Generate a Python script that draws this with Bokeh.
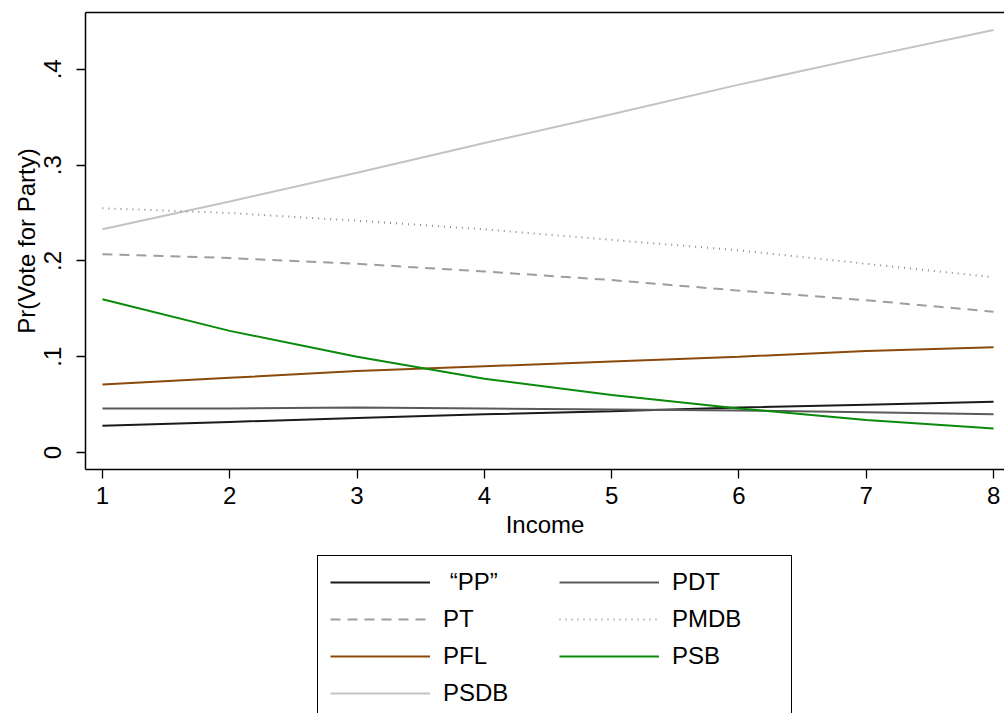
from bokeh.plotting import figure
from bokeh.layouts import column
from bokeh.models import Range1d, FixedTicker, LinearAxis, Legend, LegendItem
from bokeh.embed import file_html
from bokeh.resources import INLINE

income = [1, 2, 3, 4, 5, 6, 7, 8]
pp = [0.028, 0.032, 0.036, 0.040, 0.043, 0.047, 0.050, 0.053]
pdt = [0.046, 0.046, 0.047, 0.046, 0.045, 0.044, 0.042, 0.040]
pt = [0.207, 0.203, 0.197, 0.189, 0.180, 0.169, 0.159, 0.147]
pmdb = [0.255, 0.250, 0.242, 0.233, 0.222, 0.211, 0.197, 0.183]
pfl = [0.071, 0.078, 0.085, 0.090, 0.095, 0.100, 0.106, 0.110]
psb = [0.160, 0.127, 0.100, 0.077, 0.060, 0.046, 0.034, 0.025]
psdb = [0.233, 0.262, 0.292, 0.323, 0.353, 0.384, 0.413, 0.441]

y_ticks = [0, 0.1, 0.2, 0.3, 0.4]
y_tick_labels = ["0", ".1", ".2", ".3", ".4"]
x_ticks = [1, 2, 3, 4, 5, 6, 7, 8]

FONT = "Liberation Sans"

p = figure(width=1004, height=553, output_backend="svg",
           toolbar_location=None,
           x_range=Range1d(0.867, 8.086), y_range=Range1d(-0.0177, 0.4593),
           min_border_left=85, min_border_right=0, min_border_top=12,
           min_border_bottom=84, x_axis_label="Income",
           y_axis_label="Pr(Vote for Party)")
p.outline_line_color = None
p.grid.grid_line_color = None
p.background_fill_color = "white"
p.border_fill_color = "white"

for ax in (p.xaxis[0], p.yaxis[0]):
    ax.axis_line_color = "black"
    ax.axis_line_width = 1.5
    ax.major_tick_line_color = "black"
    ax.major_tick_line_width = 1.3
    ax.major_tick_out = 9
    ax.major_tick_in = 0
    ax.minor_tick_line_color = None
    ax.major_label_text_font = FONT
    ax.major_label_text_font_size = "24px"
    ax.major_label_text_color = "black"
    ax.axis_label_text_font = FONT
    ax.axis_label_text_font_size = "24px"
    ax.axis_label_text_font_style = "normal"
    ax.axis_label_text_color = "black"

p.xaxis.ticker = FixedTicker(ticks=x_ticks)
p.xaxis.major_label_standoff = 8
p.xaxis.axis_label_standoff = 4
p.yaxis.ticker = FixedTicker(ticks=y_ticks)
p.yaxis.major_label_overrides = {t: l for t, l in zip(y_ticks, y_tick_labels)}
p.yaxis.major_label_orientation = "parallel"
p.yaxis.major_label_standoff = 15
p.yaxis.axis_label_standoff = 2

top = LinearAxis(ticker=FixedTicker(ticks=[]), axis_line_color="black",
                 axis_line_width=1.5, major_tick_line_color=None,
                 minor_tick_line_color=None, major_label_text_font_size="0px")
p.add_layout(top, "above")

series = [
    (" “PP”", pp, "#1a1a1a", "solid"),
    ("PT", pt, "#9e9e9e", "10 7"),
    ("PFL", pfl, "#8b4a0c", "solid"),
    ("PSDB", psdb, "#c3c3c3", "solid"),
    ("PDT", pdt, "#5a5a5a", "solid"),
    ("PMDB", pmdb, "#8a8a8a", "1 5"),
    ("PSB", psb, "#0a8a0a", "solid"),
]

for name, ys, color, dash in series:
    p.line(income, ys, line_color=color, line_width=2, line_dash=dash)

# Legend panel: a second figure whose frame fills its canvas; its own copies of
# the series lie outside its x range, so only the legend is visible.
lg = figure(width=1004, height=160, output_backend="svg", toolbar_location=None,
            x_range=Range1d(100, 101), y_range=Range1d(0, 1),
            x_axis_type=None, y_axis_type=None,
            min_border_left=0, min_border_right=0, min_border_top=0,
            min_border_bottom=0)
lg.outline_line_color = None
lg.grid.grid_line_color = None
lg.background_fill_color = "white"
lg.border_fill_color = "white"

items = []
for name, ys, color, dash in series:
    r = lg.line(income, ys, line_color=color, line_width=2, line_dash=dash)
    items.append(LegendItem(label=name, renderers=[r]))

legend = Legend(items=items, location=(232, -7), orientation="vertical",
                nrows=4, ncols=2,
                glyph_width=100, glyph_height=28, label_height=28,
                label_width=107, label_standoff=13, spacing=9, padding=12,
                margin=0, border_line_color="black", border_line_alpha=1,
                border_line_width=1.3,
                background_fill_color="white", background_fill_alpha=1,
                label_text_font=FONT, label_text_font_size="24px",
                label_text_color="black")
lg.add_layout(legend, "center")

page = column(p, lg, spacing=0)
open("out.html", "w").write(file_html(page, INLINE))
